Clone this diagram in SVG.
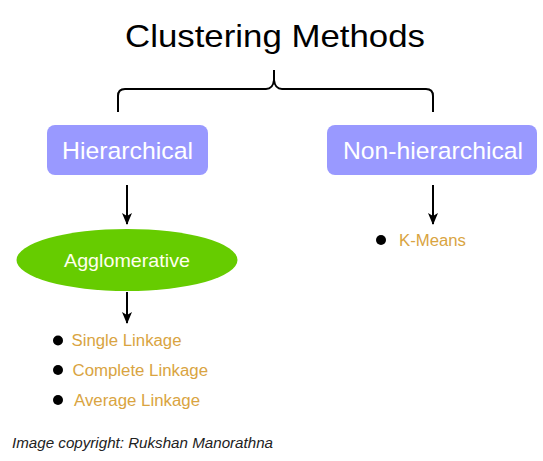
<svg xmlns="http://www.w3.org/2000/svg" width="543" height="461" viewBox="0 0 543 461">
<defs>
<marker id="arr" viewBox="0 0 12 12" refX="11" refY="6" markerWidth="12" markerHeight="12" markerUnits="userSpaceOnUse" orient="auto">
<path d="M0,1 L12,6 L0,11 L3,6 Z" fill="#000"/>
</marker>
</defs>
<style>
text{font-family:"Liberation Sans",Arial,sans-serif}
.box{fill:#9999FF}
.boxt{fill:#fff;font-size:24.5px;text-anchor:middle}
.item{fill:#D9A441;font-size:16px}
.dot{fill:#000}
.line{stroke:#000;stroke-width:2;fill:none}
</style>
<rect width="543" height="461" fill="#fff"/>
<g id="title">
<text x="125" y="46.5" font-size="32" fill="#000" textLength="300" lengthAdjust="spacingAndGlyphs">Clustering Methods</text>
</g>
<g id="connectors">
<path class="line" d="M118,112 V96 Q118,89 125,89 H266 Q273,89 274,80 V70 M274,80 Q275,89 282,89 H426 Q433,89 433,96 V112"/>
<line class="line" x1="127" y1="185" x2="127" y2="224" marker-end="url(#arr)"/>
<line class="line" x1="127" y1="292" x2="127" y2="323" marker-end="url(#arr)"/>
<line class="line" x1="433" y1="185" x2="433" y2="224" marker-end="url(#arr)"/>
</g>
<g id="hierarchical">
<rect class="box" x="47" y="125" width="161" height="50" rx="8"/>
<text class="boxt" x="127.5" y="159" textLength="131" lengthAdjust="spacingAndGlyphs">Hierarchical</text>
</g>
<g id="nonhierarchical">
<rect class="box" x="327" y="125" width="210" height="50" rx="8"/>
<text class="boxt" x="433" y="159" textLength="180" lengthAdjust="spacingAndGlyphs">Non-hierarchical</text>
</g>
<g id="agglomerative">
<ellipse cx="127" cy="260" rx="110.5" ry="31" fill="#66CC00"/>
<text x="127" y="266.5" font-size="18.5" fill="#FFFFEE" text-anchor="middle" textLength="126" lengthAdjust="spacingAndGlyphs">Agglomerative</text>
</g>
<g id="single-linkage">
<circle class="dot" cx="58" cy="340.5" r="5"/>
<text class="item" x="71.5" y="345.5" textLength="110" lengthAdjust="spacingAndGlyphs">Single Linkage</text>
</g>
<g id="complete-linkage">
<circle class="dot" cx="58" cy="370" r="5"/>
<text class="item" x="72.5" y="375.5" textLength="135.5" lengthAdjust="spacingAndGlyphs">Complete Linkage</text>
</g>
<g id="average-linkage">
<circle class="dot" cx="58" cy="400" r="5"/>
<text class="item" x="74" y="405.5" textLength="126" lengthAdjust="spacingAndGlyphs">Average Linkage</text>
</g>
<g id="kmeans">
<circle class="dot" cx="381" cy="240" r="5"/>
<text class="item" x="399" y="245.5" textLength="67" lengthAdjust="spacingAndGlyphs">K-Means</text>
</g>
<g id="copyright">
<text x="12" y="447.5" font-size="14" font-style="italic" fill="#222" textLength="261" lengthAdjust="spacingAndGlyphs">Image copyright: Rukshan Manorathna</text>
</g>
</svg>
